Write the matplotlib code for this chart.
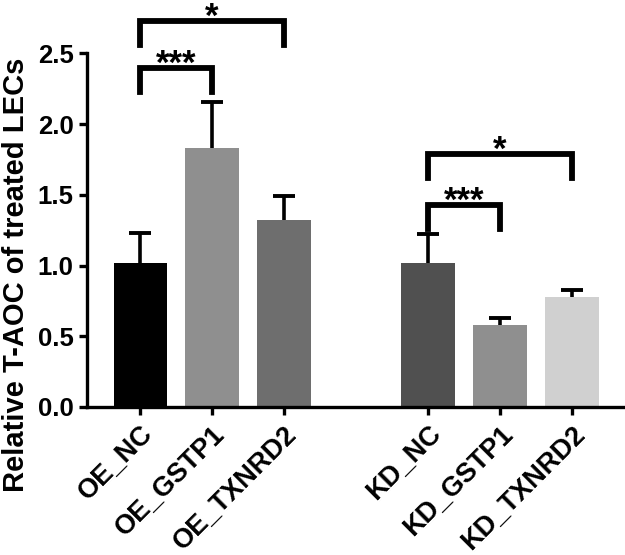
import matplotlib.pyplot as plt
import numpy as np

plt.rcParams['font.family'] = ['Liberation Sans', 'DejaVu Sans']
plt.rcParams['font.weight'] = 'bold'

groups = ['OE_NC', 'OE_GSTP1', 'OE_TXNRD2', 'KD_NC', 'KD_GSTP1', 'KD_TXNRD2']
means = [1.02, 1.83, 1.32, 1.015, 0.58, 0.775]
errors = [0.21, 0.33, 0.17, 0.205, 0.05, 0.05]
colors = ['#000000', '#8f8f8f', '#6e6e6e', '#505050', '#8f8f8f', '#d0d0d0']
positions = [0, 1, 2, 4, 5, 6]

# significance brackets: (left bar, right bar, height, label)
brackets = [(0, 2, 2.73, '*'), (0, 1, 2.40, '***'),
            (3, 5, 1.79, '*'), (3, 4, 1.43, '***')]

fig = plt.figure(figsize=(6.25, 5.55), dpi=100)
ax = fig.add_axes([0.139, 0.2667, 0.858, 0.637])

ax.bar(positions, means, width=0.74, color=colors, zorder=2)
eb = ax.errorbar(positions, means, yerr=[np.zeros(len(means)), errors], fmt='none',
                 ecolor='black', elinewidth=2.6, capsize=8, capthick=2.8, zorder=1)
# only the upper caps, like the original
eb[1][0].set_visible(False)

for i, j, h, lab in brackets:
    x1, x2 = positions[i], positions[j]
    ax.plot([x1, x1, x2, x2], [h - 0.17, h, h, h - 0.17], color='black',
            lw=4.2, clip_on=False, solid_joinstyle='miter')
    ax.annotate(lab, xy=((x1 + x2) / 2, h), xytext=(0, -4.5),
                textcoords='offset points', ha='center', va='baseline',
                fontsize=25, fontweight='bold', annotation_clip=False)

ax.set_xlim(-0.74, 6.71)
ax.set_ylim(0, 2.5)
ax.set_yticks([0.0, 0.5, 1.0, 1.5, 2.0, 2.5])
ax.set_yticklabels(['0.0', '0.5', '1.0', '1.5', '2.0', '2.5'])
ax.set_xticks(positions)
ax.set_xticklabels(groups, rotation=45, ha='right', rotation_mode='anchor')

ax.spines['top'].set_visible(False)
ax.spines['right'].set_visible(False)
for s in ['left', 'bottom']:
    ax.spines[s].set_linewidth(2.4)
ax.tick_params(axis='both', width=2.4, length=6, labelsize=18.5)
ax.tick_params(axis='x', labelsize=19.5, pad=4)
ax.set_ylabel('Relative T-AOC of treated LECs', fontsize=21, fontweight='bold')
ax.yaxis.set_label_coords(-0.106, 0.373)

fig.savefig('out.png', dpi=100)
